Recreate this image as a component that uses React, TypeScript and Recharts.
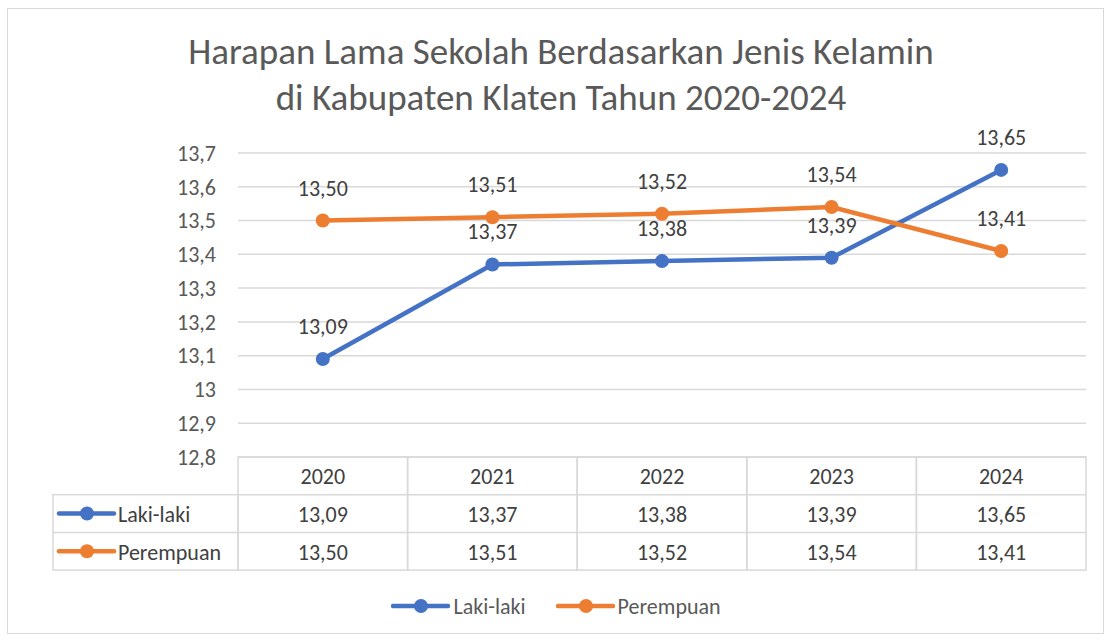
import { LineChart, Line, XAxis, YAxis, CartesianGrid, LabelList } from 'recharts';

const years = ['2020', '2021', '2022', '2023', '2024'];
const lakiLaki = [13.09, 13.37, 13.38, 13.39, 13.65];
const perempuan = [13.5, 13.51, 13.52, 13.54, 13.41];
const yTicks = [12.8, 12.9, 13, 13.1, 13.2, 13.3, 13.4, 13.5, 13.6, 13.7];
const seriesNames = ['Laki-laki', 'Perempuan'];
const seriesColors = ['#4472C4', '#ED7D31'];
const titleLines = ['Harapan Lama Sekolah Berdasarkan Jenis Kelamin', 'di Kabupaten Klaten Tahun 2020-2024'];

const data = years.map((year, i) => ({ year, laki: lakiLaki[i], perempuan: perempuan[i] }));
const seriesValues = [lakiLaki, perempuan];

const FONT = "Calibri, Carlito, 'Open Sans', sans-serif";
const TEXT = '#595959';
const GRID = '#d9d9d9';

const W = 1112;
const H = 641;
const PLOT_LEFT = 238;
const PLOT_RIGHT = 1086;
const PLOT_TOP = 153;
const PLOT_BOTTOM = 457;
const CELL_W = (PLOT_RIGHT - PLOT_LEFT) / years.length;
const ROW_H = 37.7;
const LEGEND_COL_LEFT = 53;

const comma = (v: number, d: number) => v.toFixed(d).replace('.', ',');
const yFmt = (v: number) => String(+v.toFixed(1)).replace('.', ',');

function LegendKey({ x, y, color }: { x: number; y: number; color: string }) {
  return (
    <g>
      <line x1={x} y1={y} x2={x + 55} y2={y} stroke={color} strokeWidth={4.5} strokeLinecap="round" />
      <circle cx={x + 28} cy={y} r={7} fill={color} />
    </g>
  );
}

function TableTick(props: any) {
  const { x, y, payload, index } = props;
  const left = x - CELL_W / 2;
  const textProps = { fontFamily: FONT, fontSize: 22, fill: '#404040', textAnchor: 'middle' as const, dominantBaseline: 'central' as const };
  return (
    <g>
      <rect x={left} y={y} width={CELL_W} height={ROW_H * 3} fill="none" stroke={GRID} strokeWidth={1.5} />
      <line x1={left} y1={y + ROW_H} x2={left + CELL_W} y2={y + ROW_H} stroke={GRID} strokeWidth={1.5} />
      <line x1={left} y1={y + ROW_H * 2} x2={left + CELL_W} y2={y + ROW_H * 2} stroke={GRID} strokeWidth={1.5} />
      <text x={x} y={y + ROW_H / 2 + 1} {...textProps}>{payload.value}</text>
      {seriesValues.map((vals, r) => (
        <text key={r} x={x} y={y + ROW_H * (r + 1.5) + 1} {...textProps}>{comma(vals[index], 2)}</text>
      ))}
      {index === 0 && (
        <g>
          <rect x={LEGEND_COL_LEFT} y={y + ROW_H} width={left - LEGEND_COL_LEFT} height={ROW_H * 2} fill="none" stroke={GRID} strokeWidth={1.5} />
          <line x1={LEGEND_COL_LEFT} y1={y + ROW_H * 2} x2={left} y2={y + ROW_H * 2} stroke={GRID} strokeWidth={1.5} />
          {seriesNames.map((name, r) => (
            <g key={name}>
              <LegendKey x={LEGEND_COL_LEFT + 6} y={y + ROW_H * (r + 1.5)} color={seriesColors[r]} />
              <text x={LEGEND_COL_LEFT + 65} y={y + ROW_H * (r + 1.5) + 1} fontFamily={FONT} fontSize={22} fill="#404040" dominantBaseline="central">{name}</text>
            </g>
          ))}
        </g>
      )}
    </g>
  );
}

export default function App() {
  return (
    <div style={{ position: 'absolute', left: 0, top: 0, width: W, height: H, background: '#fff', fontFamily: FONT }}>
      <div style={{ position: 'absolute', left: 7, top: 8, width: 1097, height: 626, border: `1.5px solid ${GRID}`, boxSizing: 'border-box' }} />
      <div style={{ position: 'absolute', left: 0, top: 29, width: 1122, textAlign: 'center', color: TEXT, fontSize: 37, lineHeight: '46px' }}>
        {titleLines.map((t) => <div key={t}>{t}</div>)}
      </div>
      <LineChart
        width={W}
        height={H}
        data={data}
        margin={{ top: PLOT_TOP, right: W - PLOT_RIGHT, bottom: H - PLOT_BOTTOM - 120, left: PLOT_LEFT - 60 }}
        style={{ position: 'absolute', left: 0, top: 0 }}
      >
        <CartesianGrid vertical={false} stroke={GRID} strokeWidth={1.5} />
        <XAxis
          dataKey="year"
          axisLine={false}
          tickLine={false}
          tickSize={0}
          tickMargin={0}
          height={120}
          interval={0}
          padding={{ left: CELL_W / 2, right: CELL_W / 2 }}
          tick={<TableTick />}
        />
        <YAxis
          domain={[12.8, 13.7]}
          ticks={yTicks}
          interval={0}
          width={60}
          axisLine={false}
          tickLine={false}
          tickSize={0}
          tickMargin={22}
          tickFormatter={yFmt}
          tick={{ fontFamily: FONT, fontSize: 22, fill: TEXT }}
        />
        <Line dataKey="laki" name={seriesNames[0]} stroke={seriesColors[0]} strokeWidth={4.5} dot={{ r: 7, fill: seriesColors[0], stroke: 'none' }} isAnimationActive={false}>
          <LabelList dataKey="laki" position="top" offset={25} formatter={(v: any) => comma(Number(v), 2)} style={{ fontFamily: FONT, fontSize: 22, fill: '#404040' }} />
        </Line>
        <Line dataKey="perempuan" name={seriesNames[1]} stroke={seriesColors[1]} strokeWidth={4.5} dot={{ r: 7, fill: seriesColors[1], stroke: 'none' }} isAnimationActive={false}>
          <LabelList dataKey="perempuan" position="top" offset={25} formatter={(v: any) => comma(Number(v), 2)} style={{ fontFamily: FONT, fontSize: 22, fill: '#404040' }} />
        </Line>
      </LineChart>
      <div style={{ position: 'absolute', left: 0, top: 592, width: W, display: 'flex', justifyContent: 'center', gap: 30, fontSize: 22, color: TEXT }}>
        {seriesNames.map((name, i) => (
          <div key={name} style={{ display: 'flex', alignItems: 'center', gap: 3, height: 28 }}>
            <svg width={59} height={16}><LegendKey x={2} y={8} color={seriesColors[i]} /></svg>
            <span>{name}</span>
          </div>
        ))}
      </div>
    </div>
  );
}
